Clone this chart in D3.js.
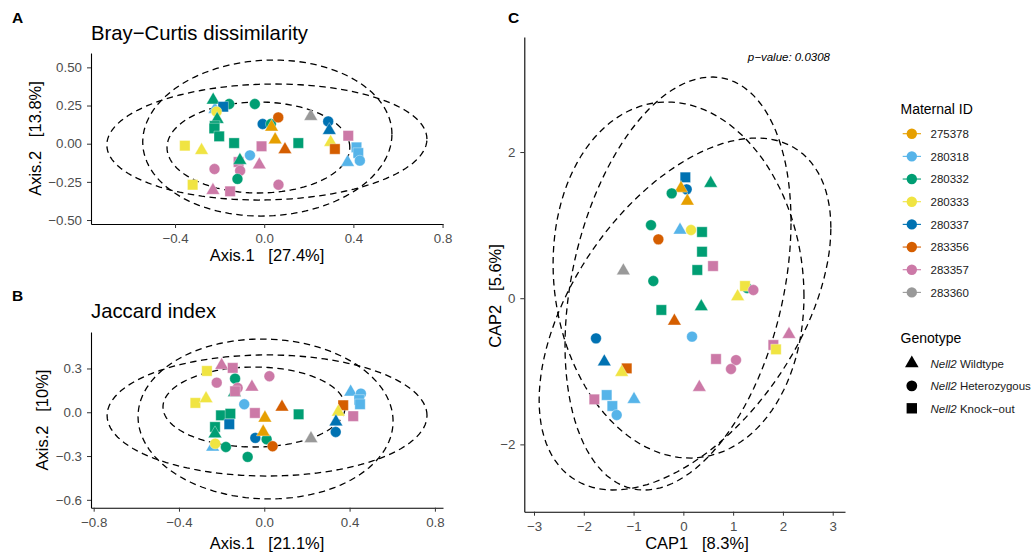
<!DOCTYPE html>
<html>
<head>
<meta charset="utf-8">
<script src="https://cdn.jsdelivr.net/npm/d3@7"></script>
<style>
  body { margin: 0; background: #fff; }
  text { font-family: "Liberation Sans", Arial, sans-serif; }
</style>
</head>
<body>
<div id="chart"></div>
<script>
// maternal IDs and their colours
const maternalIds = ["275378", "280318", "280332", "280333", "280337", "283356", "283357", "283360"];
const idColors = ["#E69F00", "#56B4E9", "#009E73", "#F0E442", "#0072B2", "#D55E00", "#CC79A7", "#999999"];

// genotype codes: T = wildtype, C = heterozygous, S = knock-out
const genoCodes = ["T", "C", "S"];
const genoLabels = ["Wildtype", "Heterozygous", "Knock\u2212out"];

// rows: [maternal id, genotype, axis1, axis2]
const brayPoints = [
    ["280318", "T", -0.221, 0.225], ["280332", "T", -0.229, 0.286], ["280332", "C", -0.157, 0.260],
    ["280337", "S", -0.184, 0.242], ["280333", "C", -0.214, 0.210], ["280332", "C", -0.042, 0.260],
    ["280332", "T", -0.211, 0.159], ["280332", "S", -0.222, 0.116], ["280332", "S", -0.224, 0.100],
    ["280332", "S", -0.202, 0.048], ["280332", "S", -0.135, 0.004], ["280333", "S", -0.356, -0.013],
    ["280333", "T", -0.281, -0.044], ["280337", "C", -0.007, 0.129], ["280332", "C", 0.030, 0.129],
    ["283356", "C", 0.063, 0.172], ["275378", "T", 0.033, 0.109], ["275378", "T", 0.049, 0.026],
    ["283356", "T", 0.093, -0.039], ["280332", "S", 0.153, 0.004], ["283357", "S", -0.012, -0.017],
    ["280318", "C", -0.064, -0.076], ["283357", "S", -0.115, -0.120], ["280332", "T", -0.109, -0.109],
    ["283357", "T", -0.022, -0.138], ["283357", "C", -0.223, -0.166], ["283357", "C", -0.108, -0.177],
    ["280332", "C", -0.120, -0.231], ["283357", "C", 0.064, -0.269], ["280333", "S", -0.321, -0.269],
    ["283357", "T", -0.230, -0.306], ["283357", "S", -0.153, -0.312], ["283360", "T", 0.209, 0.179],
    ["280337", "C", 0.287, 0.146], ["280337", "T", 0.292, 0.087], ["283357", "S", 0.377, 0.052],
    ["280333", "T", 0.298, 0.009], ["283356", "S", 0.317, -0.035], ["280318", "S", 0.414, -0.024],
    ["280318", "S", 0.422, -0.061], ["280318", "C", 0.429, -0.111], ["280318", "T", 0.374, -0.122]
];

const jaccardPoints = [
    ["280333", "S", -0.269, 0.283], ["283357", "T", -0.200, 0.322], ["283357", "S", -0.148, 0.304],
    ["283357", "C", -0.223, 0.203], ["280332", "C", -0.137, 0.230], ["280332", "T", -0.140, 0.135],
    ["283357", "C", -0.125, 0.167], ["283357", "S", -0.137, 0.144], ["283357", "T", -0.058, 0.173],
    ["283357", "C", 0.024, 0.247], ["280333", "S", -0.323, 0.064], ["280333", "T", -0.273, 0.093],
    ["280318", "C", -0.094, 0.055], ["280332", "S", -0.203, -0.021], ["280332", "S", -0.159, -0.010],
    ["280337", "S", -0.164, -0.082], ["280332", "S", -0.231, -0.101], ["280332", "T", -0.231, -0.147],
    ["283357", "S", -0.044, -0.005], ["275378", "T", 0.003, -0.039], ["283356", "T", 0.083, 0.036],
    ["280332", "S", 0.161, -0.014], ["280337", "C", -0.042, -0.176], ["280332", "C", 0.011, -0.185],
    ["275378", "T", -0.005, -0.135], ["283356", "C", 0.039, -0.233], ["280318", "T", -0.242, -0.238],
    ["280333", "C", -0.230, -0.215], ["280332", "C", -0.180, -0.238], ["280332", "C", -0.078, -0.306],
    ["283360", "T", 0.219, -0.181], ["280318", "T", 0.405, 0.139], ["280318", "C", 0.453, 0.128],
    ["280318", "S", 0.445, 0.085], ["280318", "S", 0.449, 0.055], ["283356", "S", 0.370, 0.048],
    ["280333", "T", 0.347, 0.002], ["283357", "S", 0.417, -0.027], ["280337", "T", 0.336, -0.066],
    ["280337", "C", 0.335, -0.135]
];

const capPoints = [
    ["280337", "S", 0.040, 1.654], ["280337", "C", 0.067, 1.490], ["275378", "T", -0.047, 1.504],
    ["280332", "C", -0.234, 1.435], ["275378", "T", 0.080, 1.330], ["280332", "T", 0.549, 1.572],
    ["280332", "C", -0.650, 1.000], ["283356", "C", -0.502, 0.806], ["280318", "T", -0.067, 0.933],
    ["280333", "C", 0.154, 0.933], ["280332", "S", 0.375, 0.906], ["280332", "S", 0.375, 0.636],
    ["283357", "S", 0.596, 0.440], ["280332", "S", 0.280, 0.386], ["283360", "T", -1.205, 0.376],
    ["280332", "C", -0.603, 0.235], ["280332", "C", 1.280, 0.140], ["280333", "S", 1.238, 0.167],
    ["283357", "C", 1.406, 0.112], ["280333", "T", 1.090, 0.021], ["280332", "S", -0.442, -0.161],
    ["280332", "T", 0.360, -0.116], ["283356", "T", -0.180, -0.312], ["280337", "C", -1.755, -0.549],
    ["280318", "C", 0.174, -0.526], ["283357", "T", 2.122, -0.495], ["283357", "S", 1.808, -0.640],
    ["280333", "S", 1.861, -0.700], ["283357", "S", 0.656, -0.832], ["283357", "C", 1.058, -0.846],
    ["283357", "C", 0.957, -0.969], ["280337", "T", -1.588, -0.869], ["283356", "S", -1.138, -0.960],
    ["280333", "T", -1.239, -1.014], ["283357", "T", 0.321, -1.219], ["283357", "S", -1.788, -1.384],
    ["280318", "S", -1.540, -1.325], ["280318", "T", -0.991, -1.384], ["280318", "S", -1.426, -1.475],
    ["280318", "C", -1.339, -1.598]
];

// genotype ellipses: [centre x, centre y, half-width, half-height, correlation]
const brayEllipses = [[0.012, 0.011, 0.718, 0.380, 0.05], [0.014, 0.037, 0.559, 0.511, 0.05], [-0.026, -0.025, 0.410, 0.298, 0.0]];
const jaccardEllipses = [[0.013, -0.022, 0.750, 0.415, 0.0], [0.006, -0.046, 0.598, 0.548, -0.03], [-0.048, 0.036, 0.427, 0.274, 0.0]];
const capEllipses = [[-0.107, 0.201, 2.27, 2.826, 0.30], [-0.097, 0.249, 2.52, 2.436, -0.09], [0.033, -0.216, 2.93, 2.408, 0.49]];

// tick values
const brayXTicks = [-0.4, 0.0, 0.4, 0.8], brayYTicks = [-0.5, -0.25, 0, 0.25, 0.5];
const jaccardXTicks = [-0.8, -0.4, 0.0, 0.4, 0.8], jaccardYTicks = [-0.6, -0.3, 0.0, 0.3];
const capXTicks = [-3, -2, -1, 0, 1, 2, 3], capYTicks = [-2, 0, 2];

const W = 1034, H = 557;
const svg = d3.select("#chart").append("svg")
    .attr("width", W).attr("height", H);

const color = d3.scaleOrdinal().domain(maternalIds).range(idColors);
const shapeOf = d3.scaleOrdinal().domain(genoCodes)
    .range([d3.symbolTriangle, d3.symbolCircle, d3.symbolSquare]);
const sizeOf = d3.scaleOrdinal().domain(genoCodes).range([80, 92, 108]);
const sym = d3.symbol();

const minus = s => s.replace("-", "\u2212");

function drawPanel(p) {
    const x = d3.scaleLinear().domain(p.xDomain).range([p.left, p.right]);
    const y = d3.scaleLinear().domain(p.yDomain).range([p.bottom, p.top]);
    const g = svg.append("g");

    // ellipses (one per genotype)
    const steps = d3.range(0, 121).map(i => i / 120 * 2 * Math.PI);
    const line = d3.line().x(d => x(d[0])).y(d => y(d[1]));
    p.ellipses.forEach(e => {
        const pts = steps.map(t => [
            e[0] + e[2] * Math.cos(t),
            e[1] + e[3] * (e[4] * Math.cos(t) + Math.sqrt(1 - e[4] * e[4]) * Math.sin(t))
        ]);
        g.append("path").attr("d", line(pts))
            .attr("fill", "none").attr("stroke", "#000")
            .attr("stroke-width", 1.3).attr("stroke-dasharray", "6.5,4.5");
    });

    // points
    g.selectAll(".pt").data(p.points).enter().append("path")
        .attr("class", "pt")
        .attr("transform", d => `translate(${x(d[2])},${y(d[3])})`)
        .attr("d", d => sym.type(shapeOf(d[1])).size(sizeOf(d[1]))())
        .attr("fill", d => color(d[0]))
        .attr("stroke", "#fff").attr("stroke-width", 0.5).attr("stroke-opacity", 0.7);

    // axes
    const xAxis = g.append("g").attr("transform", `translate(0,${p.bottom})`)
        .call(d3.axisBottom(x).tickValues(p.xTicks).tickSize(4).tickSizeOuter(0).tickPadding(6)
            .tickFormat(d => minus(p.xFmt(d))));
    const yAxis = g.append("g").attr("transform", `translate(${p.left},0)`)
        .call(d3.axisLeft(y).tickValues(p.yTicks).tickSize(4).tickSizeOuter(0).tickPadding(5)
            .tickFormat(d => minus(p.yFmt(d))));
    [xAxis, yAxis].forEach(a => {
        a.select(".domain").attr("stroke", "#000").attr("stroke-width", 1.1);
        a.selectAll(".tick line").attr("stroke", "#333");
        a.selectAll(".tick text").attr("fill", "#4D4D4D").style("font-size", "13.3px")
            .style("font-family", "Liberation Sans, Arial, sans-serif");
    });

    // axis titles
    g.append("text").attr("x", p.xTitlePos[0]).attr("y", p.xTitlePos[1])
        .attr("text-anchor", "middle").style("font-size", "16.5px").style("white-space", "pre")
        .text(p.xTitle);
    g.append("text")
        .attr("transform", `translate(${p.yTitlePos[0]},${p.yTitlePos[1]}) rotate(-90)`)
        .attr("text-anchor", "middle").style("font-size", "16.5px").style("white-space", "pre")
        .text(p.yTitle);

    if (p.title) {
        g.append("text").attr("x", p.left).attr("y", p.titleY)
            .style("font-size", "20.3px").text(p.title);
    }
    g.append("text").attr("x", p.tag[0]).attr("y", p.tag[1])
        .style("font-size", "15.5px").style("font-weight", "bold").text(p.tagText);
    return {x, y, g};
}

drawPanel({
    left: 91, right: 443, top: 53, bottom: 224,
    xDomain: [-0.777, 0.802], yDomain: [-0.526, 0.594],
    xTicks: brayXTicks, yTicks: brayYTicks, xFmt: d3.format(".1f"), yFmt: d3.format(".2f"),
    points: brayPoints, ellipses: brayEllipses,
    xTitle: "Axis.1   [27.4%]", xTitlePos: [267, 261],
    yTitle: "Axis.2   [13.8%]", yTitlePos: [41, 138.5],
    title: "Bray\u2212Curtis dissimilarity", titleY: 40,
    tag: [12, 23], tagText: "A"
});

drawPanel({
    left: 91, right: 443, top: 332, bottom: 507.7,
    xDomain: [-0.8125, 0.838], yDomain: [-0.654, 0.55],
    xTicks: jaccardXTicks, yTicks: jaccardYTicks, xFmt: d3.format(".1f"), yFmt: d3.format(".1f"),
    points: jaccardPoints, ellipses: jaccardEllipses,
    xTitle: "Axis.1   [21.1%]", xTitlePos: [267, 549],
    yTitle: "Axis.2   [10%]", yTitlePos: [48, 420],
    title: "Jaccard index", titleY: 318,
    tag: [12, 301], tagText: "B"
});

const cap = drawPanel({
    left: 524.3, right: 845, top: 37, bottom: 511.7,
    xDomain: [-3.195, 3.247], yDomain: [-2.921, 3.574],
    xTicks: capXTicks, yTicks: capYTicks, xFmt: d3.format("d"), yFmt: d3.format("d"),
    points: capPoints, ellipses: capEllipses,
    xTitle: "CAP1   [8.3%]", xTitlePos: [697, 549],
    yTitle: "CAP2   [5.6%]", yTitlePos: [501, 296],
    title: null,
    tag: [508, 23], tagText: "C"
});

cap.g.append("text").attr("x", 830).attr("y", 61)
    .attr("text-anchor", "end").style("font-size", "11.5px").style("font-style", "italic")
    .text("p\u2212value: 0.0308");

// legend: maternal ID
const leg = svg.append("g");
leg.append("text").attr("x", 900.5).attr("y", 114).style("font-size", "14px").text("Maternal ID");
const items = leg.selectAll(".item").data(maternalIds).enter().append("g")
    .attr("transform", (d, i) => `translate(0,${133.7 + i * 22.67})`);
items.append("line").attr("x1", 902.7).attr("x2", 921).attr("stroke", d => color(d)).attr("stroke-width", 1.1);
items.append("circle").attr("cx", 911.8).attr("r", 5.2).attr("fill", d => color(d));
items.append("text").attr("x", 930.5).attr("y", 4.2).style("font-size", "11.5px").attr("fill", "#1a1a1a").text(d => d);

// legend: genotype
leg.append("text").attr("x", 900.5).attr("y", 343).style("font-size", "14px").text("Genotype");
const gItems = leg.selectAll(".gitem").data(genoCodes).enter().append("g")
    .attr("transform", (d, i) => `translate(0,${363.3 + i * 22.5})`);
gItems.append("path").attr("transform", "translate(911.8,0)")
    .attr("d", d => sym.type(shapeOf(d)).size(sizeOf(d))()).attr("fill", "#000");
const gText = gItems.append("text").attr("x", 930.5).attr("y", 4.2).style("font-size", "11.5px").attr("fill", "#1a1a1a");
gText.append("tspan").style("font-style", "italic").text("Nell2");
gText.append("tspan").text((d, i) => " " + genoLabels[i]);
</script>
</body>
</html>
